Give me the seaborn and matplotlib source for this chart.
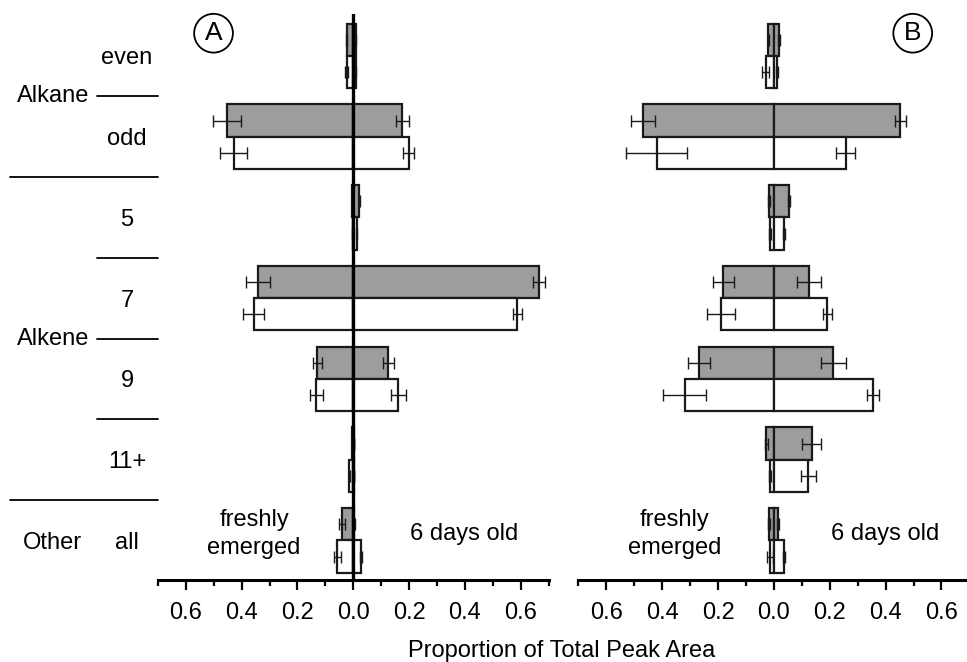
import numpy as np
import pandas as pd
import matplotlib.pyplot as plt
import matplotlib.ticker as mticker
import seaborn as sns

# categories (top to bottom) and the two bar series
categories = ["even", "odd", "5", "7", "9", "11+", "all"]
series = ["filled", "open"]
colors = {"filled": "#9d9d9d", "open": "white"}

# Panel A: freshly emerged (left) and 6 days old (right)
fresh_filled_A = [0.024, 0.452, 0.004, 0.343, 0.129, 0.003, 0.041]
fresh_filled_A_err = [0.003, 0.049, 0.002, 0.043, 0.017, 0.001, 0.010]
old_filled_A = [0.008, 0.176, 0.022, 0.664, 0.125, 0.003, 0.003]
old_filled_A_err = [0.002, 0.024, 0.003, 0.022, 0.020, 0.001, 0.002]
fresh_open_A = [0.024, 0.428, 0.002, 0.357, 0.132, 0.014, 0.057]
fresh_open_A_err = [0.004, 0.048, 0.001, 0.037, 0.024, 0.002, 0.013]
old_open_A = [0.008, 0.199, 0.012, 0.588, 0.161, 0.003, 0.028]
old_open_A_err = [0.003, 0.020, 0.003, 0.017, 0.027, 0.001, 0.004]

# Panel B
fresh_filled_B = [0.020, 0.469, 0.017, 0.182, 0.267, 0.027, 0.017]
fresh_filled_B_err = [0.003, 0.043, 0.003, 0.038, 0.039, 0.005, 0.003]
old_filled_B = [0.018, 0.452, 0.054, 0.124, 0.212, 0.135, 0.014]
old_filled_B_err = [0.003, 0.020, 0.004, 0.043, 0.045, 0.033, 0.003]
fresh_open_B = [0.030, 0.420, 0.014, 0.189, 0.320, 0.014, 0.014]
fresh_open_B_err = [0.014, 0.110, 0.004, 0.049, 0.076, 0.004, 0.010]
old_open_B = [0.011, 0.258, 0.035, 0.191, 0.355, 0.123, 0.036]
old_open_B_err = [0.003, 0.034, 0.004, 0.017, 0.021, 0.026, 0.004]

groups = [("Alkane", 0.5), ("Alkene", 3.5), ("Other", 6.0)]
short_lines = [0.5, 2.5, 3.5, 4.5]
long_lines = [1.5, 5.5]

sns.set_style("white")
plt.rcParams['font.family'] = ['Liberation Sans', 'DejaVu Sans']
plt.rcParams['text.color'] = 'black'
plt.rcParams['xtick.color'] = 'black'
FS = 17
EDGE = "#1a1a1a"


def make_frame(fresh_f, old_f, fresh_o, old_o):
    rows = []
    for i, c in enumerate(categories):
        rows.append((c, "filled", -fresh_f[i], old_f[i]))
        rows.append((c, "open", -fresh_o[i], old_o[i]))
    return pd.DataFrame(rows, columns=["category", "series", "fresh", "old"])


def draw_panel(ax, df, errs, letter, letter_x, zero_line):
    for col in ["fresh", "old"]:
        sns.barplot(data=df, x=col, y="category", hue="series", orient="h",
                    order=categories, hue_order=series, palette=colors,
                    edgecolor=EDGE, linewidth=1.6, errorbar=None,
                    legend=False, ax=ax, zorder=2)
    # error bars at the bar ends
    idx = np.arange(len(categories))
    for (vals, err, offset, sign) in errs:
        ax.errorbar(sign * np.array(vals), idx + offset, xerr=err, fmt="none",
                    ecolor=EDGE, elinewidth=1.0, capsize=4, capthick=1.0,
                    zorder=3)
    if zero_line:
        ax.axvline(0, color="black", lw=2.4, zorder=4)
    ax.set_xlim(-0.7, 0.7)
    ax.set_ylim(6.49, -0.52)
    ax.set_yticks([])
    ax.set_xlabel("")
    ax.set_ylabel("")
    for s in ["left", "right", "top"]:
        ax.spines[s].set_visible(False)
    ax.spines["bottom"].set_linewidth(2.2)
    ax.spines["bottom"].set_color("black")
    ax.xaxis.set_major_locator(mticker.MultipleLocator(0.2))
    ax.xaxis.set_minor_locator(mticker.FixedLocator(np.arange(-0.7, 0.71, 0.2)))
    ax.xaxis.set_major_formatter(mticker.FuncFormatter(lambda v, p: f"{abs(v):.1f}"))
    ax.tick_params(axis="x", which="major", direction="out", length=7, width=1.6,
                   labelsize=FS, pad=9, bottom=True)
    ax.tick_params(axis="x", which="minor", direction="out", length=4.5, width=1.6,
                   bottom=True)
    ax.text(letter_x, 0.966, letter, transform=ax.transAxes, fontsize=FS + 2,
            ha="center", va="center",
            bbox=dict(boxstyle="circle,pad=0.28", fc="white", ec="black", lw=1.3))
    ax.text(-0.355, 5.92, "freshly\nemerged", fontsize=FS, ha="center",
            va="center", multialignment="center", linespacing=1.3)
    ax.text(0.397, 5.92, "6 days old", fontsize=FS, ha="center", va="center")


fig = plt.figure(figsize=(9.67, 6.62), dpi=100)
axA = fig.add_axes([0.1632, 0.1239, 0.4043, 0.855])
axB = fig.add_axes([0.5982, 0.1239, 0.4043, 0.855])

dfA = make_frame(fresh_filled_A, old_filled_A, fresh_open_A, old_open_A)
dfB = make_frame(fresh_filled_B, old_filled_B, fresh_open_B, old_open_B)

draw_panel(axA, dfA, [(fresh_filled_A, fresh_filled_A_err, -0.2, -1),
                      (old_filled_A, old_filled_A_err, -0.2, 1),
                      (fresh_open_A, fresh_open_A_err, 0.2, -1),
                      (old_open_A, old_open_A_err, 0.2, 1)],
           "A", 0.1425, True)
draw_panel(axB, dfB, [(fresh_filled_B, fresh_filled_B_err, -0.2, -1),
                      (old_filled_B, old_filled_B_err, -0.2, 1),
                      (fresh_open_B, fresh_open_B_err, 0.2, -1),
                      (old_open_B, old_open_B_err, 0.2, 1)],
           "B", 0.855, False)

# category labels on the left of panel A
ytr = axA.get_yaxis_transform()
for i, c in enumerate(categories):
    axA.text(-0.0788, i + 0.03, c, transform=ytr, fontsize=FS, ha="center", va="center")
for name, y in groups:
    if name == "Other":
        axA.text(-0.2706, y + 0.03, name, transform=ytr, fontsize=FS, ha="center", va="center")
    else:
        axA.text(-0.176, y, name, transform=ytr, fontsize=FS, ha="right", va="center")
for y in short_lines:
    axA.plot([-0.1555, 0.0005], [y, y], transform=ytr, color="black", lw=1.3,
             clip_on=False)
for y in long_lines:
    axA.plot([-0.378, 0.0005], [y, y], transform=ytr, color="black", lw=1.3,
             clip_on=False)

fig.text(562 / 967, 1 - 651 / 662, "Proportion of Total Peak Area", fontsize=FS,
         ha="center", va="center")

fig.savefig("out.png", dpi=100)
